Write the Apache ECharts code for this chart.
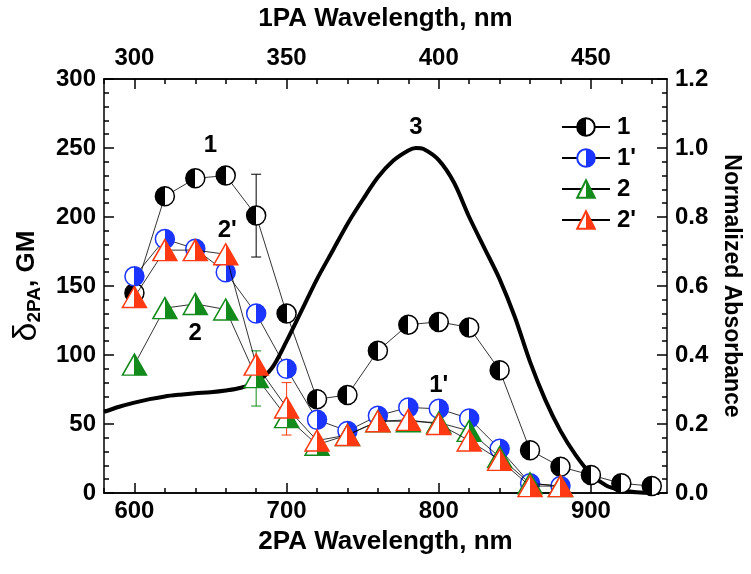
<!DOCTYPE html>
<html><head><meta charset="utf-8">
<script src="https://cdn.jsdelivr.net/npm/echarts@6/dist/echarts.min.js"></script>
<style>html,body{margin:0;padding:0;background:#fff}#c{width:751px;height:574px}</style>
</head><body><div id="c"></div>
<script>
// ---- data ----
const wl1 = [600,620,640,660,680,700,720,740,760,780,800,820,840,860,880,900,920,940];
const val1 = [145,215,228,230,201,130,68,71,103,122,124,120,89,31,19,13,7,5];
const wl2 = [600,620,640,660,680,700,720,740,760,780,800,820,840,860,880];
const val1p = [157,184,177,160,130,90,53,45,56,62,61,54,32,7,5];
const val2 = [93,134,137,133,84,55,35,42,52,52,51,45,26,7,5];
const val2p = [142,176,176,173,93,62,38,42,52,53,50,38,24,5,5];
const absX = [580,590,600,610,620,630,640,650,660,670,680,690,700,710,720,730,740,750,760,770,780,785,790,800,810,820,830,840,850,860,870,880,890,900,910,920,930,940,945];
const absY = [0.235,0.25,0.262,0.272,0.28,0.285,0.289,0.292,0.297,0.305,0.322,0.36,0.44,0.53,0.62,0.70,0.78,0.85,0.915,0.963,0.993,1.0,0.997,0.965,0.90,0.80,0.71,0.62,0.51,0.38,0.27,0.18,0.11,0.055,0.022,0.008,0.002,0,0];
const err1 = [[680,171,231]];
const err2 = [[680,63,103]];
const err2p = [[700,42,80]];
const bottomTicks = [600,700,800,900];
const leftTicksMax = 300, rightTicksMax = 1.2;
const annotations = [[650,252,'1'],[661,190,"2'"],[640,116,'2'],[800,78,"1'"],[785,265,'3']];
const seriesNames = ['1',"1'",'2',"2'"];

const FONT = '"Liberation Sans", Arial, sans-serif';
const minorX = [];
for (let v = 580; v <= 950; v += 20) if (bottomTicks.indexOf(v) < 0) minorX.push(v);

function half(leftColor, rightColor) {
  return new echarts.graphic.LinearGradient(0, 0, 1, 0, [
    {offset: 0, color: leftColor}, {offset: 0.5, color: leftColor},
    {offset: 0.5, color: rightColor}, {offset: 1, color: rightColor}
  ]);
}
function zip(xs, ys) { return xs.map((x, i) => [x, ys[i]]); }

function errSeries(data, color) {
  return {
    type: 'custom', xAxisIndex: 0, yAxisIndex: 0, z: 1, data: data, silent: true,
    renderItem: function (params, api) {
      const p1 = api.coord([api.value(0), api.value(1)]);
      const p2 = api.coord([api.value(0), api.value(2)]);
      const w = 5;
      const st = {stroke: color, lineWidth: 1};
      return {type: 'group', children: [
        {type: 'line', shape: {x1: p1[0], y1: p1[1], x2: p2[0], y2: p2[1]}, style: st},
        {type: 'line', shape: {x1: p1[0]-w, y1: p1[1], x2: p1[0]+w, y2: p1[1]}, style: st},
        {type: 'line', shape: {x1: p2[0]-w, y1: p2[1], x2: p2[0]+w, y2: p2[1]}, style: st}
      ]};
    }
  };
}

const tickStyle = {color: '#000', fontFamily: FONT, fontWeight: 'bold', fontSize: 24};
const titleStyle = {color: '#000', fontFamily: FONT, fontWeight: 'bold', fontSize: 26};
const annStyle = {color: '#000', fontFamily: FONT, fontWeight: 'bold', fontSize: 24};
const axisLineStyle = {color: '#000', width: 1.5};

function xAx(pos, values, len, showLabel, extra) {
  return Object.assign({
    type: 'value', position: pos, min: 580, max: 950,
    axisLine: {show: true, onZero: false, lineStyle: axisLineStyle},
    axisTick: {show: true, inside: true, length: len, lineStyle: {color: '#000', width: 1.5}, customValues: values},
    axisLabel: showLabel ? Object.assign({customValues: values, margin: 6}, tickStyle) : {show: false},
    splitLine: {show: false}
  }, extra || {});
}

const chart = echarts.init(document.getElementById('c'));
chart.setOption({
  animation: false,
  backgroundColor: '#fff',
  grid: {left: 104, right: 82, top: 79, bottom: 81, containLabel: false},
  legend: {
    data: seriesNames, orient: 'vertical', left: 556, top: 110,
    itemWidth: 48, itemHeight: 22, itemGap: 7,
    textStyle: Object.assign({}, annStyle, {padding: [0, 0, 0, 2]}),
    selectedMode: false
  },
  xAxis: [
    xAx('bottom', bottomTicks, 10, true, {
      name: '2PA Wavelength, nm', nameLocation: 'middle', nameGap: 36,
      nameTextStyle: titleStyle
    }),
    xAx('bottom', minorX, 5, false),
    xAx('top', bottomTicks, 10, true, {
      name: '1PA Wavelength, nm', nameLocation: 'middle', nameGap: 47,
      nameTextStyle: titleStyle,
      axisLabel: Object.assign({customValues: bottomTicks, margin: 9, formatter: v => String(v / 2)}, tickStyle)
    }),
    xAx('top', minorX, 5, false)
  ],
  yAxis: [
    {
      type: 'value', position: 'left', min: 0, max: leftTicksMax, interval: 50,
      axisLine: {show: true, lineStyle: axisLineStyle},
      axisTick: {show: true, inside: true, length: 10, lineStyle: {color: '#000', width: 1.5}},
      minorTick: {show: true, splitNumber: 5, length: 5, lineStyle: {color: '#000', width: 1.5}},
      axisLabel: Object.assign({margin: 8}, tickStyle),
      splitLine: {show: false},
      name: '{d|δ}{s|2PA}{n|, GM}', nameLocation: 'middle', nameRotate: 90, nameGap: 60,
      nameTextStyle: {
        rich: {
          d: {fontFamily: FONT, fontSize: 34, color: '#000'},
          s: {fontFamily: FONT, fontSize: 19, fontWeight: 'bold', color: '#000', verticalAlign: 'bottom', padding: [14, 0, 0, 0]},
          n: {fontFamily: FONT, fontSize: 26, fontWeight: 'bold', color: '#000'}
        }
      }
    },
    {
      type: 'value', position: 'right', min: 0, max: rightTicksMax, interval: 0.2,
      axisLine: {show: true, lineStyle: axisLineStyle},
      axisTick: {show: true, inside: true, length: 10, lineStyle: {color: '#000', width: 1.5}},
      minorTick: {show: true, splitNumber: 5, length: 5, lineStyle: {color: '#000', width: 1.5}},
      axisLabel: Object.assign({margin: 8, formatter: v => v.toFixed(1)}, tickStyle),
      splitLine: {show: false},
      name: 'Normalized Absorbance', nameLocation: 'middle', nameRotate: -90, nameGap: 53,
      nameTextStyle: Object.assign({}, titleStyle, {fontSize: 23})
    }
  ],
  series: [
    {
      name: '3', type: 'line', xAxisIndex: 0, yAxisIndex: 1, data: zip(absX, absY),
      smooth: 0.3, showSymbol: false, symbol: 'none', z: 1,
      lineStyle: {color: '#000', width: 4}
    },
    errSeries(err1, '#000'),
    errSeries(err2, '#138a1c'),
    errSeries(err2p, '#ff3a12'),
    {
      name: '1', type: 'line', xAxisIndex: 0, yAxisIndex: 0, data: zip(wl1, val1), z: 2,
      symbol: 'circle', symbolSize: 19, showAllSymbol: true,
      lineStyle: {color: '#000', width: 0.8},
      itemStyle: {color: half('#000', '#fff'), borderColor: '#000', borderWidth: 1.5}
    },
    {
      name: "1'", type: 'line', xAxisIndex: 0, yAxisIndex: 0, data: zip(wl2, val1p), z: 3,
      symbol: 'circle', symbolSize: 19, showAllSymbol: true,
      lineStyle: {color: '#000', width: 0.8},
      itemStyle: {color: half('#fff', '#1b35ff'), borderColor: '#1b35ff', borderWidth: 1.5}
    },
    {
      name: '2', type: 'line', xAxisIndex: 0, yAxisIndex: 0, data: zip(wl2, val2), z: 4,
      symbol: 'triangle', symbolSize: [24, 21], showAllSymbol: true,
      lineStyle: {color: '#000', width: 0.8},
      itemStyle: {color: half('#fff', '#138a1c'), borderColor: '#138a1c', borderWidth: 1.5}
    },
    {
      name: "2'", type: 'line', xAxisIndex: 0, yAxisIndex: 0, data: zip(wl2, val2p), z: 5,
      symbol: 'triangle', symbolSize: [24, 21], showAllSymbol: true,
      lineStyle: {color: '#000', width: 0.8},
      itemStyle: {color: half('#fff', '#ff3a12'), borderColor: '#ff3a12', borderWidth: 1.5}
    },
    {
      name: 'labels', type: 'scatter', xAxisIndex: 0, yAxisIndex: 0, z: 6, silent: true,
      data: annotations, symbolSize: 1, itemStyle: {color: 'transparent', opacity: 1},
      label: Object.assign({show: true, position: 'inside', formatter: p => p.data[2]}, annStyle)
    }
  ]
});
</script></body></html>
